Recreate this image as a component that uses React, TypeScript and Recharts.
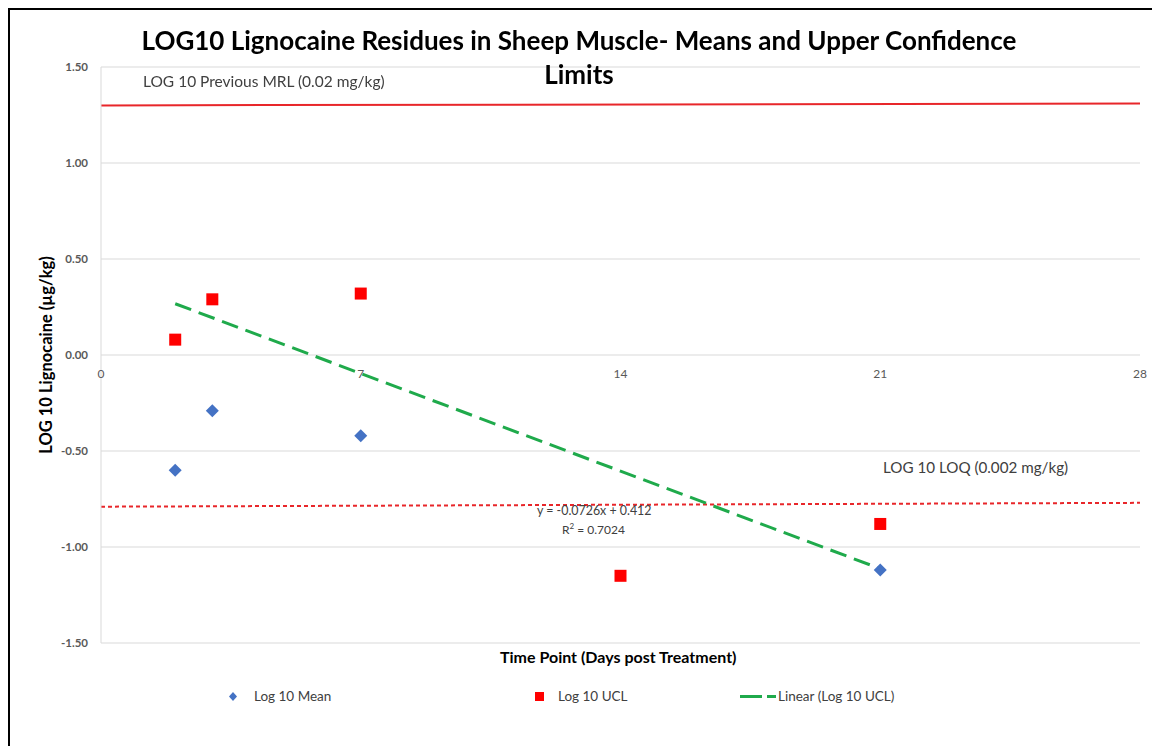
import { ComposedChart, Scatter, Line, XAxis, YAxis, CartesianGrid } from "recharts";

// values
const meanDays = [2, 3, 7, 21];
const logMean = [-0.6, -0.29, -0.42, -1.12];
const uclDays = [2, 3, 7, 14, 21];
const logUcl = [0.08, 0.29, 0.32, -1.15, -0.88];
const trendDays = [2, 21];
const trendValues = [0.267, -1.113]; // y = -0.0726x + 0.412 at the end points
const limitDays = [0, 28];
const mrlValues = [1.3, 1.31];
const loqValues = [-0.79, -0.77];
const xTicks = [0, 7, 14, 21, 28];
const yTicks = [-1.5, -1.0, -0.5, 0, 0.5, 1.0, 1.5];

const FONT = "Lato, 'Open Sans', sans-serif";
const CHART_W = 1142;
const CHART_H = 736;
const PLOT_TOP = 57;
const PLOT_BOTTOM = 633;
const X_AXIS_H = 20;
const ZERO_Y = (PLOT_TOP + PLOT_BOTTOM) / 2;

const toPoints = (xs: number[], ys: number[]) => xs.map((x, i) => ({ x, y: ys[i] }));

const meanData = toPoints(meanDays, logMean);
const uclData = toPoints(uclDays, logUcl);
const trendData = toPoints(trendDays, trendValues);
const mrlData = toPoints(limitDays, mrlValues);
const loqData = toPoints(limitDays, loqValues);

const Diamond = (props: any) => {
  const { cx, cy } = props;
  const r = 6.5;
  return (
    <polygon
      points={`${cx},${cy - r} ${cx + r},${cy} ${cx},${cy + r} ${cx - r},${cy}`}
      fill="#4472C4"
    />
  );
};

const Square = (props: any) => {
  const { cx, cy } = props;
  return <rect x={cx - 6} y={cy - 6} width={12} height={12} fill="#FF0000" />;
};

// x tick labels sit on the zero line, like Excel's "axis crosses at 0"
const renderXTick = (props: any) => {
  const { x, payload, index } = props;
  return (
    <text
      key={`xt-${index}`}
      x={x}
      y={ZERO_Y + 23}
      textAnchor="middle"
      fill="#595959"
      fontSize={12}
      fontFamily={FONT}
    >
      {payload.value}
    </text>
  );
};

const label = (left: number, top: number, text: string, size: number) => (
  <div
    style={{
      position: "absolute",
      left,
      top,
      fontSize: size,
      fontFamily: FONT,
      color: "#404040",
      whiteSpace: "nowrap",
      lineHeight: 1,
    }}
  >
    {text}
  </div>
);

export default function App() {
  return (
    <div
      style={{
        position: "fixed",
        left: 8,
        top: 8,
        width: CHART_W,
        height: CHART_H,
        borderTop: "2px solid #000",
        borderLeft: "2px solid #000",
        background: "#fff",
      }}
    >
      <ComposedChart
        width={CHART_W}
        height={CHART_H}
        margin={{ top: PLOT_TOP, right: 12, bottom: CHART_H - PLOT_BOTTOM - X_AXIS_H, left: 0 }}
      >
        <CartesianGrid vertical={false} stroke="#d9d9d9" strokeWidth={1} />
        <XAxis
          dataKey="x"
          type="number"
          domain={[0, 28]}
          ticks={xTicks}
          height={X_AXIS_H}
          axisLine={false}
          tickLine={false}
          tick={renderXTick}
          interval={0}
          allowDataOverflow
        />
        <YAxis
          type="number"
          domain={[-1.5, 1.5]}
          ticks={yTicks}
          width={91}
          axisLine={{ stroke: "#d9d9d9" }}
          tickLine={false}
          tickSize={0}
          tickMargin={13}
          tickFormatter={(v: number) => v.toFixed(2)}
          tick={{ fill: "#595959", fontSize: 11.5, fontWeight: 700, fontFamily: FONT }}
          interval={0}
          allowDataOverflow
        />
        <Line data={mrlData} dataKey="y" stroke="#E8262A" strokeWidth={2} dot={false} isAnimationActive={false} />
        <Line
          data={loqData}
          dataKey="y"
          stroke="#E8262A"
          strokeWidth={2}
          strokeDasharray="4 3"
          dot={false}
          isAnimationActive={false}
        />
        <Line
          data={trendData}
          dataKey="y"
          stroke="#1FAA4B"
          strokeWidth={3}
          strokeDasharray="17 8"
          dot={false}
          isAnimationActive={false}
        />
        <Scatter data={meanData} dataKey="y" shape={<Diamond />} isAnimationActive={false} />
        <Scatter data={uclData} dataKey="y" shape={<Square />} isAnimationActive={false} />
      </ComposedChart>

      {/* title */}
      <div
        style={{
          position: "absolute",
          left: -6,
          width: 1150,
          top: 13,
          textAlign: "center",
          fontFamily: FONT,
          fontWeight: 700,
          fontSize: 26,
          lineHeight: "34px",
          color: "#000",
        }}
      >
        <div>LOG10 Lignocaine Residues in Sheep Muscle- Means and Upper Confidence</div>
        <div>Limits</div>
      </div>

      {/* y axis title */}
      <div
        style={{
          position: "absolute",
          left: 36,
          top: 345,
          transform: "translate(-50%, -50%) rotate(-90deg)",
          fontFamily: FONT,
          fontWeight: 700,
          fontSize: 16.5,
          lineHeight: 1,
          whiteSpace: "nowrap",
          color: "#000",
        }}
      >
        LOG 10 Lignocaine (µg/kg)
      </div>

      {/* x axis title */}
      <div
        style={{
          position: "absolute",
          left: 490,
          top: 639,
          fontFamily: FONT,
          fontWeight: 700,
          fontSize: 16,
          lineHeight: "16px",
          whiteSpace: "nowrap",
          color: "#000",
        }}
      >
        Time Point (Days post Treatment)
      </div>

      {label(133, 64, "LOG 10 Previous MRL (0.02 mg/kg)", 15.5)}
      {label(873, 450, "LOG 10 LOQ (0.002 mg/kg)", 15.2)}
      {label(527, 495, "y = -0.0726x + 0.412", 12.4)}
      <div
        style={{
          position: "absolute",
          left: 552,
          top: 512,
          fontSize: 12,
          fontFamily: FONT,
          color: "#404040",
          whiteSpace: "nowrap",
          lineHeight: 1,
        }}
      >
        R<sup style={{ fontSize: 8 }}>2</sup> = 0.7024
      </div>

      {/* legend */}
      <svg style={{ position: "absolute", left: 215, top: 678 }} width={20} height={20}>
        <polygon points="8,4 12,8.5 8,13 4,8.5" fill="#4472C4" />
      </svg>
      {label(244, 680, "Log 10 Mean", 13.5)}
      <svg style={{ position: "absolute", left: 520, top: 678 }} width={20} height={20}>
        <rect x={5} y={4} width={9} height={9} fill="#FF0000" />
      </svg>
      {label(548, 680, "Log 10 UCL", 13.5)}
      <svg style={{ position: "absolute", left: 728, top: 678 }} width={40} height={20}>
        <line x1={2} y1={8.5} x2={38} y2={8.5} stroke="#1FAA4B" strokeWidth={3} strokeDasharray="22 5" />
      </svg>
      {label(768, 680, "Linear (Log 10 UCL)", 13.5)}
    </div>
  );
}
